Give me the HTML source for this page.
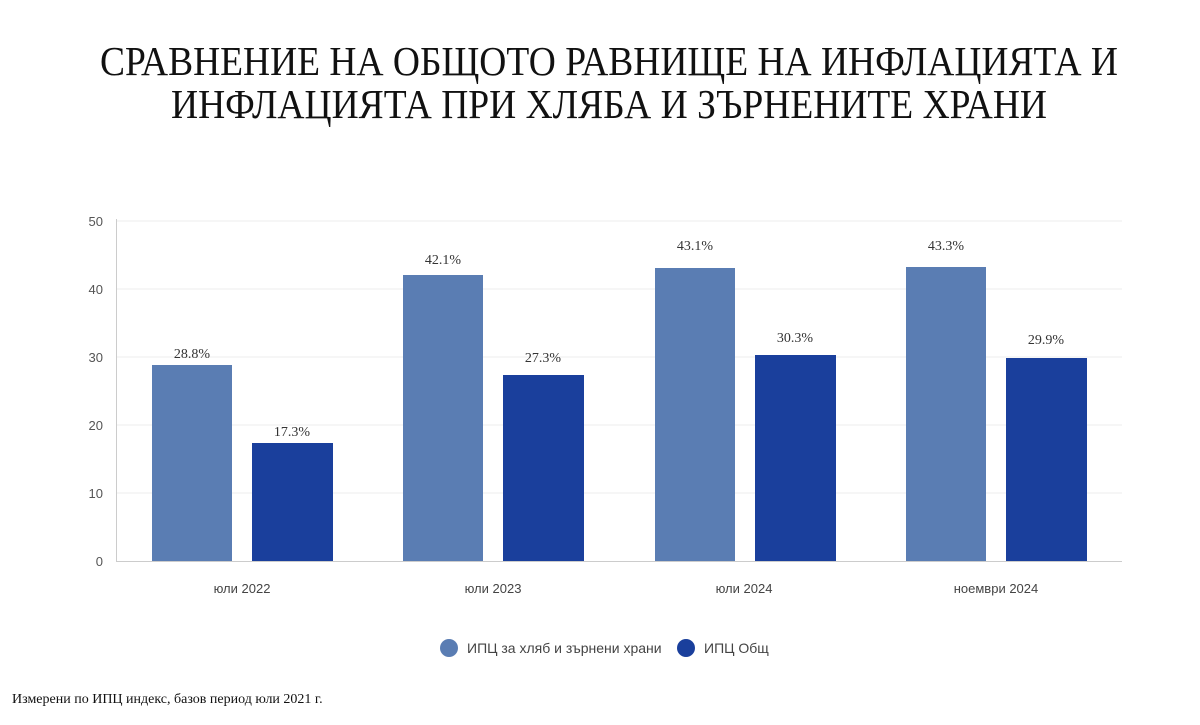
<!DOCTYPE html>
<html><head><meta charset="utf-8"><style>
body{margin:0;background:#fff;width:1200px;height:720px;overflow:hidden}
</style></head><body>
<svg width="1200" height="720" xmlns="http://www.w3.org/2000/svg">
<g font-family="Liberation Serif, DejaVu Serif, serif" fill="#111" font-size="41" text-anchor="middle">
<text x="609" y="75" textLength="1018" lengthAdjust="spacingAndGlyphs">СРАВНЕНИЕ НА ОБЩОТО РАВНИЩЕ НА ИНФЛАЦИЯТА И</text>
<text x="609" y="118" textLength="876" lengthAdjust="spacingAndGlyphs">ИНФЛАЦИЯТА ПРИ ХЛЯБА И ЗЪРНЕНИТЕ ХРАНИ</text>
</g>
<g stroke="#ececec" stroke-width="1">
<line x1="116" y1="221" x2="1122" y2="221"/><line x1="116" y1="289" x2="1122" y2="289"/>
<line x1="116" y1="357" x2="1122" y2="357"/><line x1="116" y1="425" x2="1122" y2="425"/>
<line x1="116" y1="493" x2="1122" y2="493"/>
</g>
<line x1="116.5" y1="219" x2="116.5" y2="561" stroke="#ccc"/>
<line x1="116" y1="561.5" x2="1122" y2="561.5" stroke="#ccc"/>
<g font-family="Liberation Sans, sans-serif" font-size="13" fill="#555" text-anchor="end">
<text x="103" y="226">50</text><text x="103" y="294">40</text><text x="103" y="362">30</text>
<text x="103" y="430">20</text><text x="103" y="498">10</text><text x="103" y="566">0</text>
</g>
<g fill="#5a7db3">
<rect x="152" y="365" width="80" height="196"/>
<rect x="403" y="275" width="80" height="286"/>
<rect x="655" y="268" width="80" height="293"/>
<rect x="906" y="267" width="80" height="294"/>
</g>
<g fill="#1a3f9c">
<rect x="252" y="443" width="81" height="118"/>
<rect x="503" y="375" width="81" height="186"/>
<rect x="755" y="355" width="81" height="206"/>
<rect x="1006" y="358" width="81" height="203"/>
</g>
<g font-family="Liberation Serif, serif" font-size="14" fill="#333" text-anchor="middle">
<text x="192" y="358">28.8%</text><text x="292" y="436">17.3%</text>
<text x="443" y="264">42.1%</text><text x="543" y="362">27.3%</text>
<text x="695" y="250">43.1%</text><text x="795" y="342">30.3%</text>
<text x="946" y="250">43.3%</text><text x="1046" y="344">29.9%</text>
</g>
<g font-family="Liberation Sans, sans-serif" font-size="13" fill="#444" text-anchor="middle">
<text x="242" y="593">юли 2022</text><text x="493" y="593">юли 2023</text>
<text x="744" y="593">юли 2024</text><text x="996" y="593">ноември 2024</text>
</g>
<circle cx="449" cy="648" r="9" fill="#5a7db3"/>
<circle cx="686" cy="648" r="9" fill="#1a3f9c"/>
<g font-family="Liberation Sans, sans-serif" font-size="14" fill="#444">
<text x="467" y="653">ИПЦ за хляб и зърнени храни</text>
<text x="704" y="653">ИПЦ Общ</text>
</g>
<text x="12" y="703" font-family="Liberation Serif, serif" font-size="14" fill="#111">Измерени по ИПЦ индекс, базов период юли 2021 г.</text>
</svg>
</body></html>
